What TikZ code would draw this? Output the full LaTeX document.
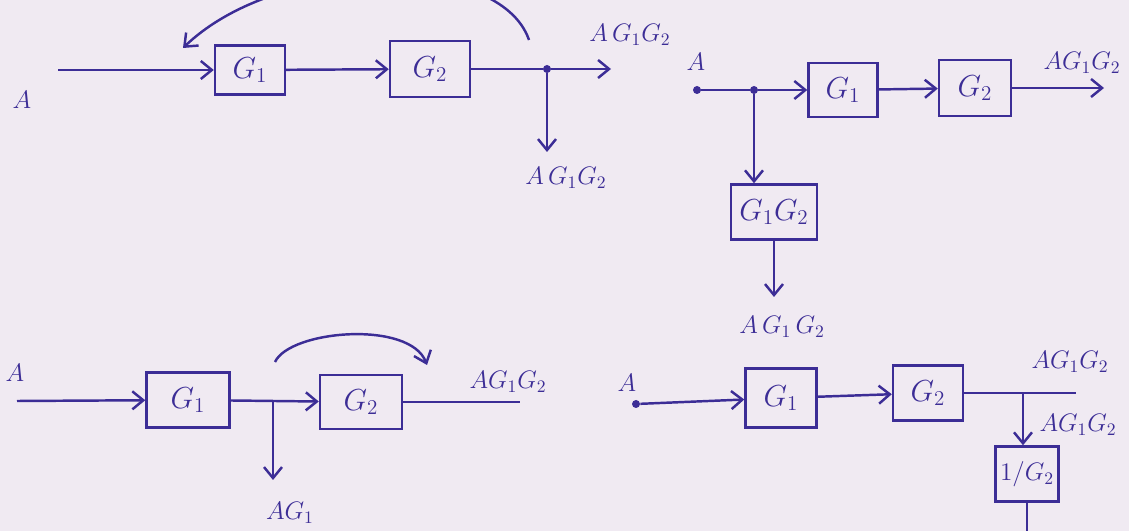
\documentclass[tikz,border=0pt]{standalone}
\usetikzlibrary{arrows.meta, positioning}
\definecolor{ink}{RGB}{60,45,150}
\definecolor{paper}{RGB}{240,234,242}

\begin{document}
\begin{tikzpicture}[x=0.2mm, y=-0.2mm,
  blk/.style={rectangle, draw=ink, line width=1.4pt, inner sep=2pt, text=ink, font=\LARGE},
  lbl/.style={text=ink, inner sep=1pt, font=\Large},
  sig/.style={draw=ink, line width=1.4pt, -{Straight Barb[length=2.2mm, width=3.6mm]}},
  wire/.style={draw=ink, line width=1.4pt},
  dot/.style={circle, fill=ink, inner sep=0pt, minimum size=1.6mm}]
  \useasboundingbox (0,0) rectangle (1129,531);
  \fill[paper] (0,0) rectangle (1129,531);

  \node[lbl] (a1) at (22,100) {$A$};
  \coordinate (in1) at (58,70);
  \node[blk, minimum width=14mm, minimum height=9.8mm] (g1a) at (250,70) {$G_1$};
  \node[blk, minimum width=16mm, minimum height=11.2mm] (g2a) at (430,69) {$G_2$};
  \node[dot] (j1) at (547,69) {};
  \coordinate (out1) at (611,69);
  \coordinate (dn1) at (547,152);
  \node[lbl] (o1) at (630,35) {$A\,G_1G_2$};
  \node[lbl] (o2) at (566,178) {$A\,G_1G_2$};
  \coordinate (c1s) at (529,40);
  \coordinate (c1e) at (183,48);
  \draw[sig] (in1) -- (g1a);
  \draw[sig] (g1a) -- (g2a);
  \draw[wire] (g2a) -- (j1);
  \draw[sig] (j1) -- (out1);
  \draw[sig] (j1) -- (dn1);
  \draw[sig] (c1s) .. controls (500,-45) and (280,-45) .. (c1e);

  \node[lbl] (a2) at (696,62) {$A$};
  \node[dot] (in2) at (697,90) {};
  \node[dot] (j2) at (754,90) {};
  \node[blk, minimum width=13.8mm, minimum height=10.8mm] (g1b) at (843,90) {$G_1$};
  \node[blk, minimum width=14.4mm, minimum height=11.2mm] (g2b) at (975,88) {$G_2$};
  \coordinate (out2) at (1104,88);
  \node[lbl] (o3) at (1082,63) {$AG_1G_2$};
  \node[blk, minimum width=17.2mm, minimum height=11mm] (g12) at (774,212) {$G_1G_2$};
  \coordinate (dn2) at (774,297);
  \node[lbl] (o4) at (782,327) {$A\,G_1\,G_2$};
  \draw[wire] (in2) -- (j2);
  \draw[sig] (j2) -- (g1b);
  \draw[sig] (g1b) -- (g2b);
  \draw[sig] (g2b) -- (out2);
  \draw[sig] (j2) -- (j2 |- g12.north);
  \draw[sig] (g12) -- (dn2);

  \node[lbl] (a3) at (15,373) {$A$};
  \coordinate (in3) at (17,401);
  \node[blk, minimum width=16.6mm, minimum height=11mm] (g1c) at (188,400) {$G_1$};
  \node[blk, minimum width=16.4mm, minimum height=10.8mm] (g2c) at (361,402) {$G_2$};
  \coordinate (j3) at (273,401);
  \coordinate (dn3) at (273,480);
  \node[lbl] (o5) at (290,513) {$AG_1$};
  \coordinate (out3) at (520,402);
  \node[lbl] (o6) at (508,382) {$AG_1G_2$};
  \coordinate (c3s) at (275,362);
  \coordinate (c3e) at (427,365);
  \draw[sig] (in3) -- (g1c);
  \draw[sig] (g1c) -- (g2c);
  \draw[sig] (j3) -- (dn3);
  \draw[wire] (g2c) -- (out3);
  \draw[sig] (c3s) .. controls (290,330) and (410,320) .. (c3e);

  \node[lbl] (a4) at (627,383) {$A$};
  \node[dot] (in4) at (636,404) {};
  \node[blk, minimum width=14.2mm, minimum height=11.8mm] (g1d) at (781,398) {$G_1$};
  \node[blk, minimum width=14mm, minimum height=11mm] (g2d) at (928,393) {$G_2$};
  \coordinate (j4) at (1023,393);
  \coordinate (out4) at (1076,393);
  \node[lbl] (o7) at (1070,362) {$AG_1G_2$};
  \node[lbl] (o8) at (1078,425) {$AG_1G_2$};
  \node[blk, minimum width=12.6mm, minimum height=11mm, font=\Large] (g3d) at (1027,474) {$1/G_2$};
  \coordinate (end4) at (1027,545);
  \draw[sig] (in4) -- (g1d);
  \draw[sig] (g1d) -- (g2d);
  \draw[wire] (g2d) -- (out4);
  \draw[sig] (j4) -- (j4 |- g3d.north);
  \draw[wire] (g3d) -- (end4);
\end{tikzpicture}
\end{document}
